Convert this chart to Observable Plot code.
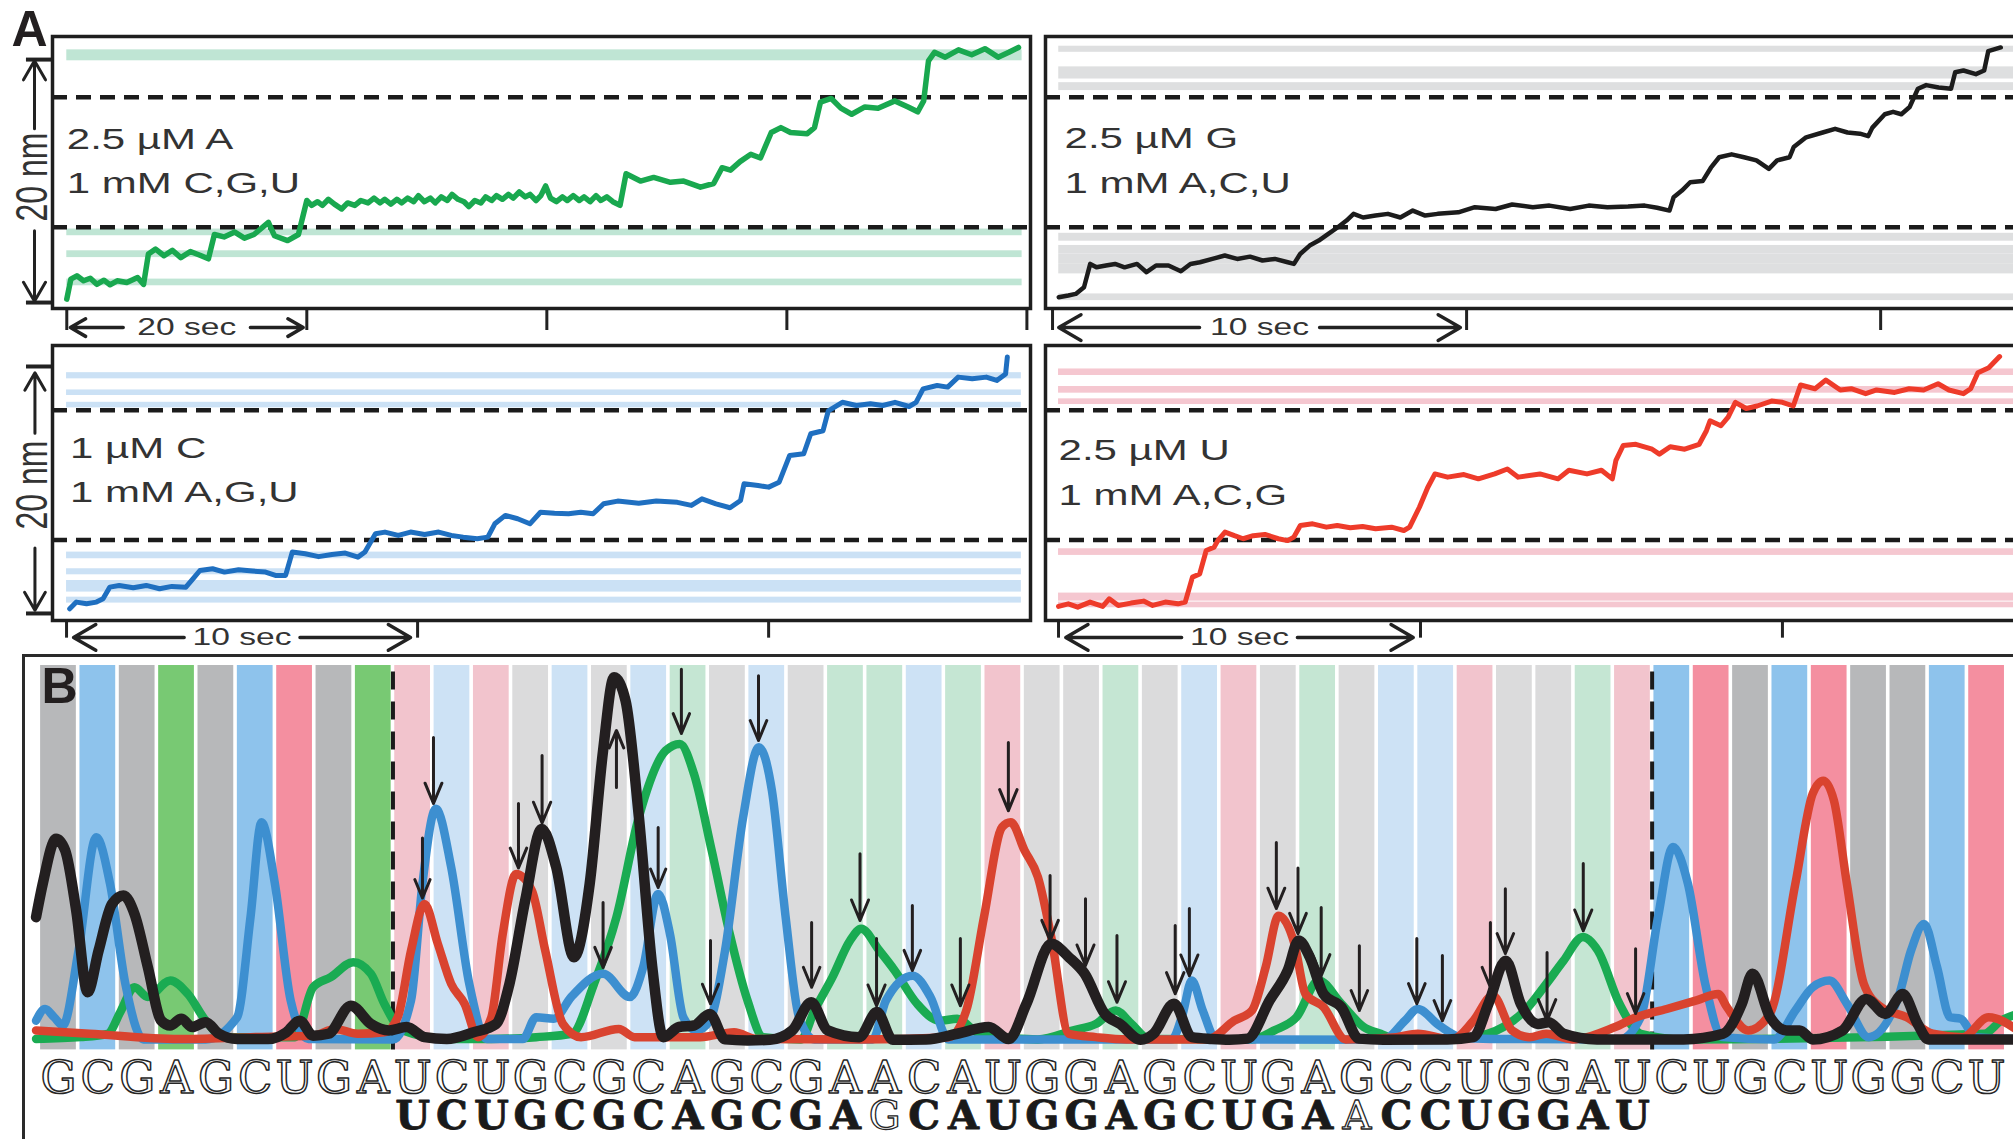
<!DOCTYPE html>
<html><head><meta charset="utf-8">
<script src="https://cdn.jsdelivr.net/npm/d3@7"></script>
<script src="https://cdn.jsdelivr.net/npm/@observablehq/plot@0.6"></script>
<style>
html,body{margin:0;padding:0;width:2013px;height:1139px;overflow:hidden;background:#fff;}
#root{position:relative;width:2013px;height:1139px;overflow:hidden;background:#fff;}
</style></head><body><div id="root"></div>
<script>
// ---------------- Panel A data (time s, extension nm) ----------------
const traceGreenA = [[0,0.28],[0.34,1.93],[0.84,2.2],[1.4,1.79],[1.96,2.0],[2.5,1.5],[3.1,1.84],[3.6,1.46],[4.2,1.79],[5.0,1.65],[5.9,2.06],[6.4,1.5],[6.8,3.99],[7.4,4.4],[8.1,3.85],[8.8,4.3],[9.5,3.7],[10.3,4.2],[11.2,3.85],[11.8,3.6],[12.3,5.6],[13.1,5.4],[14.0,5.8],[14.8,5.3],[15.6,5.6],[16.8,6.6],[17.3,5.5],[18.4,5.1],[19.3,5.6],
[20.0,8.4],[20.4,8.0],[20.9,8.3],[21.3,8.0],[21.8,8.5],[22.3,8.1],[22.9,7.7],[23.4,8.2],[24.0,8.0],[24.5,8.4],[25.1,8.2],[25.6,8.6],[26.1,8.2],[26.5,8.5],[27.0,8.1],[27.5,8.5],[27.9,8.2],[28.4,8.6],[28.9,8.3],[29.3,8.8],[29.8,8.3],[30.3,8.6],[30.7,8.2],[31.2,8.7],[31.7,8.4],[32.1,8.9],[32.6,8.5],[33.1,8.3],[33.5,7.9],[34.0,8.4],[34.5,8.2],[34.9,8.7],[35.4,8.4],[35.8,8.8],[36.3,8.5],[36.8,8.9],[37.2,8.6],[37.7,9.1],[38.2,8.7],[38.6,8.9],[39.1,8.4],[39.5,8.8],[39.9,9.6],[40.3,8.6],[40.8,8.3],[41.3,8.7],[41.7,8.4],[42.2,8.8],[42.7,8.4],[43.1,8.7],[43.6,8.3],[44.1,8.8],[44.5,8.4],[45.0,8.7],[45.5,8.3],[46.1,8.0],
[46.6,10.6],[47.8,10.0],[48.9,10.3],[50.3,9.9],[51.4,10.0],[52.8,9.5],[53.9,9.8],[54.6,11.1],[55.3,10.9],[56.1,11.6],[57.0,12.2],[57.8,11.9],[58.7,14.0],[59.5,14.4],[60.3,14.0],[61.7,13.9],[62.3,14.4],[62.8,16.5],[63.7,16.8],[64.5,16.0],[65.4,15.5],[66.5,16.1],[67.6,16.0],[69.0,16.6],[70.1,16.1],[70.9,15.7],[71.4,16.6],[71.8,19.9],[72.3,20.6],[73.2,20.2],[74.3,20.8],[75.4,20.4],[76.5,20.9],[77.6,20.2],[78.5,20.6],[79.3,21.0]];
const traceBlackG = [[0.15,0.44],[0.38,0.58],[0.56,0.71],[0.76,1.26],[0.91,3.18],[1.06,2.9],[1.29,3.05],[1.51,3.18],[1.74,2.9],[2.04,3.18],[2.27,2.5],[2.5,3.05],[2.8,3.05],[3.1,2.58],[3.33,3.18],[3.56,3.32],[3.86,3.59],[4.16,3.87],[4.46,3.59],[4.77,3.78],[5.07,3.46],[5.37,3.59],[5.68,3.32],[5.83,3.18],[5.98,4.0],[6.21,4.69],[6.43,5.1],[6.66,5.65],[6.89,6.2],[7.1,6.75],[7.27,7.3],[7.5,7.0],[7.8,7.16],[8.1,7.3],[8.4,7.0],[8.7,7.57],[9.0,7.16],[9.3,7.3],[9.8,7.43],[10.2,7.85],[10.7,7.7],[11.1,8.07],[11.6,7.85],[12.0,7.98],[12.5,7.7],[12.95,7.98],[13.4,7.85],[13.9,7.9],[14.3,7.98],[14.6,7.8],[14.9,7.57],[15.0,8.67],[15.2,9.22],[15.4,9.9],[15.7,10.0],[15.9,11.1],[16.1,11.96],[16.4,12.2],[16.7,11.96],[17.0,11.7],[17.3,11.0],[17.5,11.7],[17.8,11.96],[17.9,12.8],[18.2,13.6],[18.6,14.0],[18.9,14.3],[19.2,14.0],[19.5,13.9],[19.7,13.7],[19.8,14.4],[20.1,15.5],[20.3,15.7],[20.5,15.5],[20.7,16.1],[20.9,17.6],[21.1,17.9],[21.4,17.7],[21.7,17.6],[21.8,18.96],[22.0,19.1],[22.3,18.8],[22.5,19.1],[22.6,20.7],[22.9,21.0]];
const traceBlueC = [[0.09,0.38],[0.28,0.92],[0.57,0.78],[0.85,0.92],[1.04,1.19],[1.23,2.13],[1.5,2.27],[1.9,2.08],[2.27,2.27],[2.65,2.0],[3.0,2.19],[3.4,2.13],[3.6,2.8],[3.8,3.48],[4.16,3.62],[4.5,3.35],[4.9,3.54],[5.3,3.43],[5.67,3.35],[5.95,3.08],[6.24,3.08],[6.43,4.97],[6.8,4.83],[7.18,4.6],[7.56,4.78],[7.94,4.89],[8.3,4.56],[8.5,4.97],[8.8,6.45],[9.07,6.59],[9.45,6.32],[9.8,6.59],[10.2,6.4],[10.6,6.59],[10.96,6.32],[11.3,6.18],[11.7,6.05],[12.0,6.18],[12.2,7.26],[12.5,7.94],[12.85,7.67],[13.2,7.26],[13.5,8.2],[13.9,8.12],[14.3,8.07],[14.65,8.2],[15.0,8.07],[15.3,8.88],[15.7,9.1],[16.3,8.93],[16.8,9.1],[17.4,9.0],[17.8,8.75],[18.1,9.28],[18.5,8.88],[18.9,8.56],[19.2,9.15],[19.3,10.5],[19.7,10.36],[20.0,10.23],[20.3,10.63],[20.6,12.8],[21.0,12.93],[21.2,14.55],[21.55,14.8],[21.7,16.4],[22.1,17.1],[22.5,16.84],[22.9,16.98],[23.25,16.84],[23.6,17.1],[24.0,16.76],[24.2,17.1],[24.4,18.19],[24.8,18.46],[25.1,18.33],[25.4,19.14],[25.8,19.0],[26.2,19.14],[26.5,18.87],[26.75,19.4],[26.8,20.76]];
const traceRedU = [[0.0,0.57],[0.27,0.78],[0.53,0.51],[0.87,0.92],[1.22,0.57],[1.4,1.19],[1.65,0.65],[2.0,0.84],[2.35,1.0],[2.6,0.65],[2.95,0.92],[3.3,0.78],[3.5,0.92],[3.7,2.94],[3.9,3.2],[4.08,5.1],[4.3,5.37],[4.4,5.9],[4.6,6.59],[4.86,6.3],[5.1,6.05],[5.38,6.3],[5.7,6.4],[6.07,6.05],[6.33,5.9],[6.5,6.18],[6.68,7.13],[7.02,7.26],[7.4,6.99],[7.7,7.13],[8.06,6.94],[8.4,7.04],[8.76,6.86],[9.2,6.99],[9.54,6.72],[9.7,6.99],[9.97,8.6],[10.2,10.2],[10.4,11.3],[10.75,11.04],[11.2,11.25],[11.6,10.9],[12.05,11.3],[12.4,11.7],[12.7,11.04],[13.3,11.3],[13.8,10.9],[14.1,11.6],[14.6,11.3],[15.0,11.6],[15.3,10.9],[15.4,12.4],[15.6,13.6],[15.95,13.7],[16.4,13.3],[16.6,12.9],[16.9,13.5],[17.3,13.3],[17.7,13.7],[17.9,14.8],[18.0,15.6],[18.3,15.2],[18.5,15.9],[18.7,17.1],[19.0,16.6],[19.3,16.8],[19.7,17.2],[20.0,17.1],[20.3,16.8],[20.5,18.5],[20.9,18.2],[21.2,18.9],[21.6,18.1],[21.9,18.2],[22.3,17.8],[22.6,18.1],[23.1,17.9],[23.5,18.2],[23.9,18.1],[24.3,18.6],[24.6,18.1],[25.0,17.8],[25.2,18.2],[25.4,19.5],[25.7,19.9],[25.8,20.2],[26.0,20.8]];

// bands [low nm, high nm]
const bandsA = [[19.9,20.8],[5.5,6.05],[3.7,4.26],[1.38,1.93]];
const bandsG = [[20.6,21.1],[18.4,19.4],[17.45,18.1],[5.05,5.7],[4.0,4.7],[3.15,4.0],[2.36,3.15],[0.16,0.71]];
const bandsC = [[19.0,19.5],[17.65,18.1],[16.65,17.1],[4.43,4.97],[3.13,3.62],[1.73,2.67],[0.84,1.32]];
const bandsU = [[19.27,19.8],[17.84,18.38],[16.92,17.38],[4.7,5.24],[1.0,1.65],[0.46,0.92]];
const dashedTop = [16.9, 6.2];
const dashedBottom = [16.45, 5.95];

const labelsA = [[0,12.67,"2.5 µM A"],[0,9.05,"1 mM C,G,U"]];
const labelsG = [[0.29,12.76,"2.5 µM G"],[0.29,9.05,"1 mM A,C,U"]];
const labelsC = [[0.1,12.55,"1 µM C"],[0.1,9.0,"1 mM A,G,U"]];
const labelsU = [[0,12.4,"2.5 µM U"],[0,8.75,"1 mM A,C,G"]];

const ticksA = [0,20,40,60,80];
const ticks10 = [0,10,20];
const scaleLabelA = "20 sec";
const scaleLabel10 = "10 sec";
const nmTicks = [0, 20];
const nmLabel = "20 nm";

// ---------------- Panel B data ----------------
const seqTop = "GCGAGCUGAUCUGCGCAGCGAACAUGGAGCUGAGCCUGGAUCUGCUGGCU".split("");
const seqRead = "UCUGCGCAGCGAGCAUGGAGCUGAACCUGGAU".split("");
const readStart = 10;
const readMismatch = [22, 34];
const regionBounds = [9.5, 41.5];

const traceG = [[0.43,32.9],[0.6,41.8],[0.94,53.8],[1.17,50.7],[1.45,34.7],[1.74,12.9],[2.02,24],[2.36,36.4],[2.65,38.7],[2.93,33.8],[3.27,19.6],[3.61,5.3],[3.84,4],[4.12,5.8],[4.4,3.6],[4.74,4.9],[5.08,1.8],[5.54,0.4],[6.33,0.4],[6.79,2.2],[7.13,5.3],[7.47,1.3],[7.86,1.8],[8.43,9.3],[8.94,4.4],[9.4,2.7],[9.85,3.6],[10.3,0.9],[10.87,0.4],[11.55,2.2],[12.12,4.4],[12.46,15.1],[12.86,37.3],[13.28,56.4],[13.65,46.2],[14.1,22.2],[14.5,41.8],[14.84,77.3],[15.12,96.9],[15.41,90.7],[15.75,59.6],[16.09,19.6],[16.37,0.9],[16.77,3.6],[17.15,4],[17.55,7.1],[17.94,0.3],[18.51,0],[19.08,0.2],[19.65,2.7],[20.13,10.2],[20.55,2.7],[21.35,0.9],[21.8,7.6],[22.2,0.2],[23.05,0.3],[23.84,1.8],[24.64,3.6],[25.15,0.4],[25.6,9.8],[26.23,25.8],[26.68,22.2],[27.08,17.8],[27.59,7.1],[27.98,4.4],[28.5,0.2],[28.83,1.8],[29.35,9.8],[29.8,0.9],[30.31,0.4],[30.76,0.2],[31.22,0.5],[31.78,10.7],[32.24,18.7],[32.52,26.7],[32.8,22.2],[33.15,12.4],[33.6,8.9],[34.05,0.5],[34.67,0.2],[36.3,0.3],[36.96,0.9],[37.34,9.8],[37.78,21.3],[38.16,9.8],[38.6,4.4],[38.87,4.9],[39.25,1.8],[40.1,0.3],[42.3,0.3],[43.3,1.8],[43.78,9.8],[44.05,17.8],[44.5,6.2],[44.92,2.7],[45.25,2.7],[45.58,0.3],[46.34,2.7],[46.94,11.1],[47.43,7.1],[47.87,12.4],[48.25,4.4],[48.52,0.3],[50.8,0.3]];
const traceC = [[0.43,5.3],[0.66,8.4],[0.89,6.2],[1.11,4],[1.51,24],[1.96,54.2],[2.31,41.8],[2.7,15.1],[3.16,0.3],[4.74,0.3],[5.54,6.2],[5.88,32.9],[6.16,58.2],[6.5,41.8],[6.9,10.7],[7.35,0.4],[9.5,0.3],[9.96,10.7],[10.25,41.8],[10.59,61.8],[10.98,46.2],[11.44,15.1],[11.89,0.4],[12.8,0.4],[13.14,6.2],[13.59,5.8],[14.03,11.6],[14.84,17.8],[15.52,11.6],[15.86,19.6],[16.24,39.1],[16.54,28.4],[16.88,6.2],[17.22,2.7],[17.55,5.3],[17.94,24],[18.4,59.6],[18.8,78.2],[19.13,66.7],[19.48,32.9],[19.82,6.2],[20.21,0.3],[21.69,0.3],[22.03,10.7],[22.71,17.3],[23.16,11.6],[23.62,0.3],[29.29,0.3],[29.57,7.1],[29.8,16],[30.08,8],[30.42,0.3],[34.67,0.2],[35.22,5.3],[35.54,8.4],[36.09,4],[36.63,0.9],[37.4,0.4],[40.67,0.3],[41.21,6.2],[41.65,32.9],[42.03,51.6],[42.41,41.8],[42.85,15.1],[43.29,0.9],[44.6,0.3],[45.14,8],[45.58,14.2],[46.01,16],[46.45,9.8],[47.0,0.9],[47.76,11.6],[48.08,24],[48.41,31.1],[48.74,19.6],[49.07,6.2],[49.34,5.8],[49.72,0.9],[50.8,0.4]];
const traceA = [[0.43,0.4],[1.57,0.9],[2.25,1.8],[2.59,8],[2.93,14.2],[3.27,11.6],[3.84,16],[4.29,12.4],[4.74,5.3],[5.2,0.9],[7.01,0.9],[7.47,14.2],[7.92,16.9],[8.49,20.9],[8.94,17.8],[9.28,9.8],[9.74,2.7],[10.87,0.4],[12.0,0.4],[13.14,0.9],[14.05,1.8],[14.61,15.1],[15.18,32.9],[15.75,59.6],[16.43,77.3],[16.79,79.1],[17.15,71.1],[17.6,50.7],[18.06,28.4],[18.51,10.7],[18.91,0.9],[19.87,0.3],[20.21,8],[20.67,16.9],[21.12,26.7],[21.4,29.8],[21.86,24],[22.25,18.7],[22.82,9.8],[23.39,5.3],[23.84,5.8],[24.41,1.8],[25.89,0.3],[26.79,2.7],[27.36,4.4],[27.87,8],[28.27,4.4],[28.72,0.4],[31.33,0.3],[31.9,2.7],[32.46,6.2],[33.03,16],[33.6,9.8],[34.17,3.6],[34.6,1.8],[35.0,0.3],[36.85,0.9],[37.72,3.6],[38.27,8],[38.81,15.1],[39.25,21.3],[39.74,27.6],[40.12,24],[40.67,9.8],[41.21,1.8],[42.3,0.3],[49.94,1.8],[50.37,5.3],[50.8,7.1]];
const traceU = [[0.43,2.7],[1.79,1.8],[4.06,0.4],[5.88,0.9],[7.47,1.3],[8.03,3.1],[8.6,1.8],[9.28,2.2],[9.62,6.2],[9.96,24],[10.3,36.4],[10.64,25.8],[10.98,15.1],[11.32,9.8],[11.66,0.9],[12.0,6.2],[12.29,28.4],[12.63,44.4],[13.03,40],[13.37,24],[13.82,4.4],[14.28,0.9],[15.24,3.1],[15.64,0.9],[17.31,0.9],[18.17,2.2],[18.74,0.4],[21.35,0.3],[23.62,0.9],[24.07,8],[24.52,32.9],[24.98,56.9],[25.2,58.2],[25.55,50.7],[25.89,43.6],[26.23,27.6],[26.68,1.8],[27.36,0.9],[28.15,0.3],[30.2,0.3],[30.88,5.3],[31.33,8],[31.68,19.6],[32.01,33.3],[32.41,25.8],[32.69,12.4],[33.15,8.9],[33.71,0.3],[35.0,0.9],[35.54,1.8],[36.42,0.3],[36.96,5.3],[37.45,12],[37.94,2.7],[38.38,0.9],[38.81,1.8],[39.47,0.3],[40.56,3.6],[41.1,6.2],[41.87,8.4],[42.63,10.7],[43.18,12.4],[43.4,8.9],[43.94,2.7],[44.49,7.1],[45.14,41.8],[45.58,65.8],[45.85,69.3],[46.12,64],[46.45,41.8],[46.88,15.1],[47.32,8.9],[47.97,6.2],[48.63,1.8],[49.39,0.9],[50.05,6.2],[50.8,2.7]];
// arrows: [position, tail, tip]
const pauseArrows = [[10.53,80.8,63.2],[10.25,54,38],[12.69,63.2,46],[13.29,76,58],[14.84,36.8,19.5],[15.18,67.5,82.7],[16.24,56.8,40.8],[16.83,99,81.9],[17.57,26.7,9.8],[18.79,97.3,80],[20.14,31.5,14.2],[21.37,49.8,32],[21.79,27.2,9.3],[22.7,36,18.7],[23.92,27.2,9.3],[25.14,79.5,61.3],[26.2,44,26.7],[27.1,37.8,20],[27.9,28,10.2],[29.38,30.7,12.5],[29.74,35.2,17.3],[31.95,52.8,35.2],[32.5,46,28.5],[33.09,35.5,17.3],[34.06,25.3,8],[35.52,27.2,9.8],[36.17,22.7,5.3],[37.39,31.5,14.2],[37.77,40.5,23.2],[38.83,23.5,5.3],[39.75,47.2,29.3],[41.08,24.5,7.2]];

const strongColors = {G: "#b7b8ba", C: "#8ec3ec", A: "#78c973", U: "#f48fa0"};
const lightColors = {G: "#dbdbdc", C: "#cde2f5", A: "#c5e6d3", U: "#f2c4cd"};
const traceColors = {G: "#231f20", C: "#3d8fd0", A: "#1aab52", U: "#d9432f"};
const traceWidths = {G: 10.5, C: 8.5, A: 8.5, U: 8.5};

// ---------------- helpers ----------------
const root = document.getElementById("root");
const SANS = "Liberation Sans, Arial, Helvetica, sans-serif";
const SERIF = "DejaVu Serif, serif";
const baseStyle = {background: "transparent", maxWidth: "none", overflow: "visible"};

function place(svg, left, top) {
  svg.style.position = "absolute";
  svg.style.left = left + "px";
  svg.style.top = top + "px";
  root.appendChild(svg);
}
function stretchTexts(svg, sx) {
  svg.querySelectorAll("text").forEach(t => {
    const g = t.closest("g");
    if (g && g.getAttribute("font-weight") === "bold") return;
    const tr = t.getAttribute("transform") || "";
    const m = tr.match(/translate\([^)]*\)/);
    if (m) t.setAttribute("transform", tr.replace(m[0], m[0] + ` scale(${sx},1)`));
  });
}

function tracePanel(o) {
  const marks = [
    Plot.rect(o.bands, {x1: () => o.bandSpan[0], x2: () => o.bandSpan[1], y1: d => d[0], y2: d => d[1], fill: o.bandColor}),
    Plot.ruleY(o.dashed, {stroke: "#1b1b1b", strokeWidth: 4.5, strokeDasharray: "15,9"}),
    Plot.text(o.labels, {x: d => d[0], y: d => d[1], text: d => d[2], textAnchor: "start", lineAnchor: "bottom", fontSize: 30, fontFamily: SANS, fill: "#333"}),
    Plot.line(o.trace, {x: d => d[0], y: d => d[1], stroke: o.color, strokeWidth: o.lineWidth, strokeLinejoin: "round", strokeLinecap: "round"}),
    Plot.ruleX(o.ticks, {y1: () => o.y[0], y2: () => o.tickBottom, stroke: "#222", strokeWidth: 3}),
    Plot.arrow(o.scaleArrows, {x1: d => d[0], x2: d => d[1], y1: () => o.scaleY, y2: () => o.scaleY, stroke: "#222", strokeWidth: 3.5, headLength: 11, headAngle: 60}),
    Plot.text([o.scaleText], {x: () => o.scaleMid, y: () => o.scaleY, text: d => d, fontSize: 24, fontFamily: SANS, fill: "#333"})
  ];
  if (o.yAxis) {
    const a = o.yAxis;
    marks.push(
      Plot.ruleY(nmTicks, {x1: () => a.tick[0], x2: () => a.tick[1], stroke: "#222", strokeWidth: 4}),
      Plot.arrow(a.arrows, {x1: () => a.x, x2: () => a.x, y1: d => d[0], y2: d => d[1], stroke: "#222", strokeWidth: 3, headLength: 11, headAngle: 60}),
      Plot.text([nmLabel], {x: () => a.textX, y: () => a.textY, text: d => d, rotate: -90, fontSize: 32, fontFamily: SANS, fill: "#333"})
    );
  }
  if (o.panelLetter) {
    marks.push(Plot.text([o.panelLetter[2]], {x: () => o.panelLetter[0], y: () => o.panelLetter[1], text: d => d, textAnchor: "start", lineAnchor: "top", fontSize: 50, fontWeight: "bold", fontFamily: SANS, fill: "#231f20"}));
  }
  marks.push(Plot.frame({stroke: "#1e1e1e", strokeWidth: 3.5}));
  const svg = Plot.plot({
    width: o.width, height: o.height,
    marginLeft: o.margin[3], marginRight: o.margin[1], marginTop: o.margin[0], marginBottom: o.margin[2],
    x: {domain: o.x, axis: null}, y: {domain: o.y, axis: null},
    style: baseStyle,
    marks
  });
  stretchTexts(svg, 1.4);
  place(svg, o.left, o.top);
}

// Top-left: A
tracePanel({
  left: 0, top: 0, width: 1040, height: 345, margin: [36, 10, 37, 52],
  x: [-1.19, 80.3], y: [-0.49, 21.9],
  trace: traceGreenA, color: "#19a84f", lineWidth: 5.5, bands: bandsA, bandColor: "#bfe5d4", bandSpan: [0, 79.6],
  dashed: dashedTop, labels: labelsA, ticks: ticksA, tickBottom: -2.3,
  scaleArrows: [[4.7, 0.3], [15.3, 19.7]], scaleY: -2.06, scaleText: scaleLabelA, scaleMid: 10,
  yAxis: {tick: [-3.36, -1.19], x: -2.69, arrows: [[14.3, 19.9], [5.9, 0.1]], textX: -2.86, textY: 10.33},
  panelLetter: [-4.6, 24.0, "A"]
});
// Top-right: G
tracePanel({
  left: 1035, top: 0, width: 1000, height: 345, margin: [36, 12, 37, 10],
  x: [-0.17, 23.45], y: [-0.49, 21.9],
  trace: traceBlackG, color: "#1c1c1c", lineWidth: 4.5, bands: bandsG, bandColor: "#dedfe0", bandSpan: [0.15, 24],
  dashed: dashedTop, labels: labelsG, ticks: ticks10, tickBottom: -2.3,
  scaleArrows: [[3.55, 0.15], [6.45, 9.85]], scaleY: -2.06, scaleText: scaleLabel10, scaleMid: 5
});
// Bottom-left: C
tracePanel({
  left: 0, top: 310, width: 1040, height: 345, margin: [35, 10, 35, 52],
  x: [-0.4, 27.46], y: [-0.57, 21.7],
  trace: traceBlueC, color: "#1f6fc0", lineWidth: 5, bands: bandsC, bandColor: "#cbe1f5", bandSpan: [0, 27.2],
  dashed: dashedBottom, labels: labelsC, ticks: ticks10, tickBottom: -2.0,
  scaleArrows: [[3.35, 0.2], [6.65, 9.8]], scaleY: -1.94, scaleText: scaleLabel10, scaleMid: 5,
  yAxis: {tick: [-1.14, -0.4], x: -0.9, arrows: [[14.6, 19.5], [5.3, 0.25]], textX: -0.97, textY: 10.4}
});
// Bottom-right: U
tracePanel({
  left: 1035, top: 310, width: 1000, height: 345, margin: [35, 12, 35, 10],
  x: [-0.36, 26.66], y: [-0.57, 21.7],
  trace: traceRedU, color: "#ee3b2a", lineWidth: 5, bands: bandsU, bandColor: "#f5c7d0", bandSpan: [0, 27],
  dashed: dashedBottom, labels: labelsU, ticks: ticks10, tickBottom: -2.0,
  scaleArrows: [[3.4, 0.2], [6.6, 9.8]], scaleY: -1.94, scaleText: scaleLabel10, scaleMid: 5
});

// ---------------- Panel B ----------------
const stripes = seqTop.map((b, i) => ({k: i + 1, base: b, inner: i + 1 > regionBounds[0] && i + 1 < regionBounds[1]}));
const readRows = seqRead.map((b, i) => ({k: readStart + i, b, miss: readMismatch.includes(readStart + i)}));
const stripeRange = [-2.5, 100];
const rowY = [-14.1, -23.6];

const svgB = Plot.plot({
  width: 2040, height: 500,
  marginLeft: 23, marginRight: 0, marginTop: 5, marginBottom: 0,
  x: {domain: [0.111, 51.37], axis: null},
  y: {domain: [-29.33, 102.67], axis: null},
  color: {type: "identity"},
  style: baseStyle,
  marks: [
    Plot.rect(stripes, {x1: d => d.k - 0.5, x2: d => d.k + 0.5, y1: () => stripeRange[0], y2: () => stripeRange[1], fill: d => (d.inner ? lightColors : strongColors)[d.base], insetLeft: 1.8, insetRight: 1.8}),
    Plot.ruleX(regionBounds, {y1: () => stripeRange[0], y2: () => stripeRange[1], stroke: "#1b1b1b", strokeWidth: 4, strokeDasharray: "18,12"}),
    Plot.text(["B"], {x: () => 0.57, y: () => 99.5, text: d => d, textAnchor: "start", lineAnchor: "top", fontSize: 50, fontWeight: "bold", fontFamily: SANS, fill: "#231f20"}),
    ...[["A", traceA], ["C", traceC], ["U", traceU], ["G", traceG]].map(([b, data]) =>
      Plot.line(data, {x: d => d[0], y: d => d[1], stroke: traceColors[b], strokeWidth: traceWidths[b], curve: "monotone-x", strokeLinejoin: "round", strokeLinecap: "round"})),
    Plot.arrow(pauseArrows, {x1: d => d[0], x2: d => d[0], y1: d => d[1], y2: d => d[2], stroke: "#231f20", strokeWidth: 3, headLength: 14, headAngle: 45}),
    Plot.text(seqTop, {x: (d, i) => i + 1, y: () => rowY[0], text: d => d, lineAnchor: "bottom", fontFamily: SERIF, fontSize: 45, fill: "white", stroke: "#262626", strokeWidth: 1.5, paintOrder: "normal"}),
    Plot.text(readRows.filter(d => !d.miss), {x: d => d.k, y: () => rowY[1], text: d => d.b, lineAnchor: "bottom", fontFamily: SERIF, fontWeight: "bold", fontSize: 40, fill: "#1a1a1a", stroke: "#1a1a1a", strokeWidth: 0.8}),
    Plot.text(readRows.filter(d => d.miss), {x: d => d.k, y: () => rowY[1], text: d => d.b, lineAnchor: "bottom", fontFamily: SERIF, fontSize: 40, fill: "white", stroke: "#262626", strokeWidth: 1.3, paintOrder: "normal"}),
    Plot.frame({stroke: "#2a2a2a", strokeWidth: 3})
  ]
});
place(svgB, 0, 650);
</script></body></html>
